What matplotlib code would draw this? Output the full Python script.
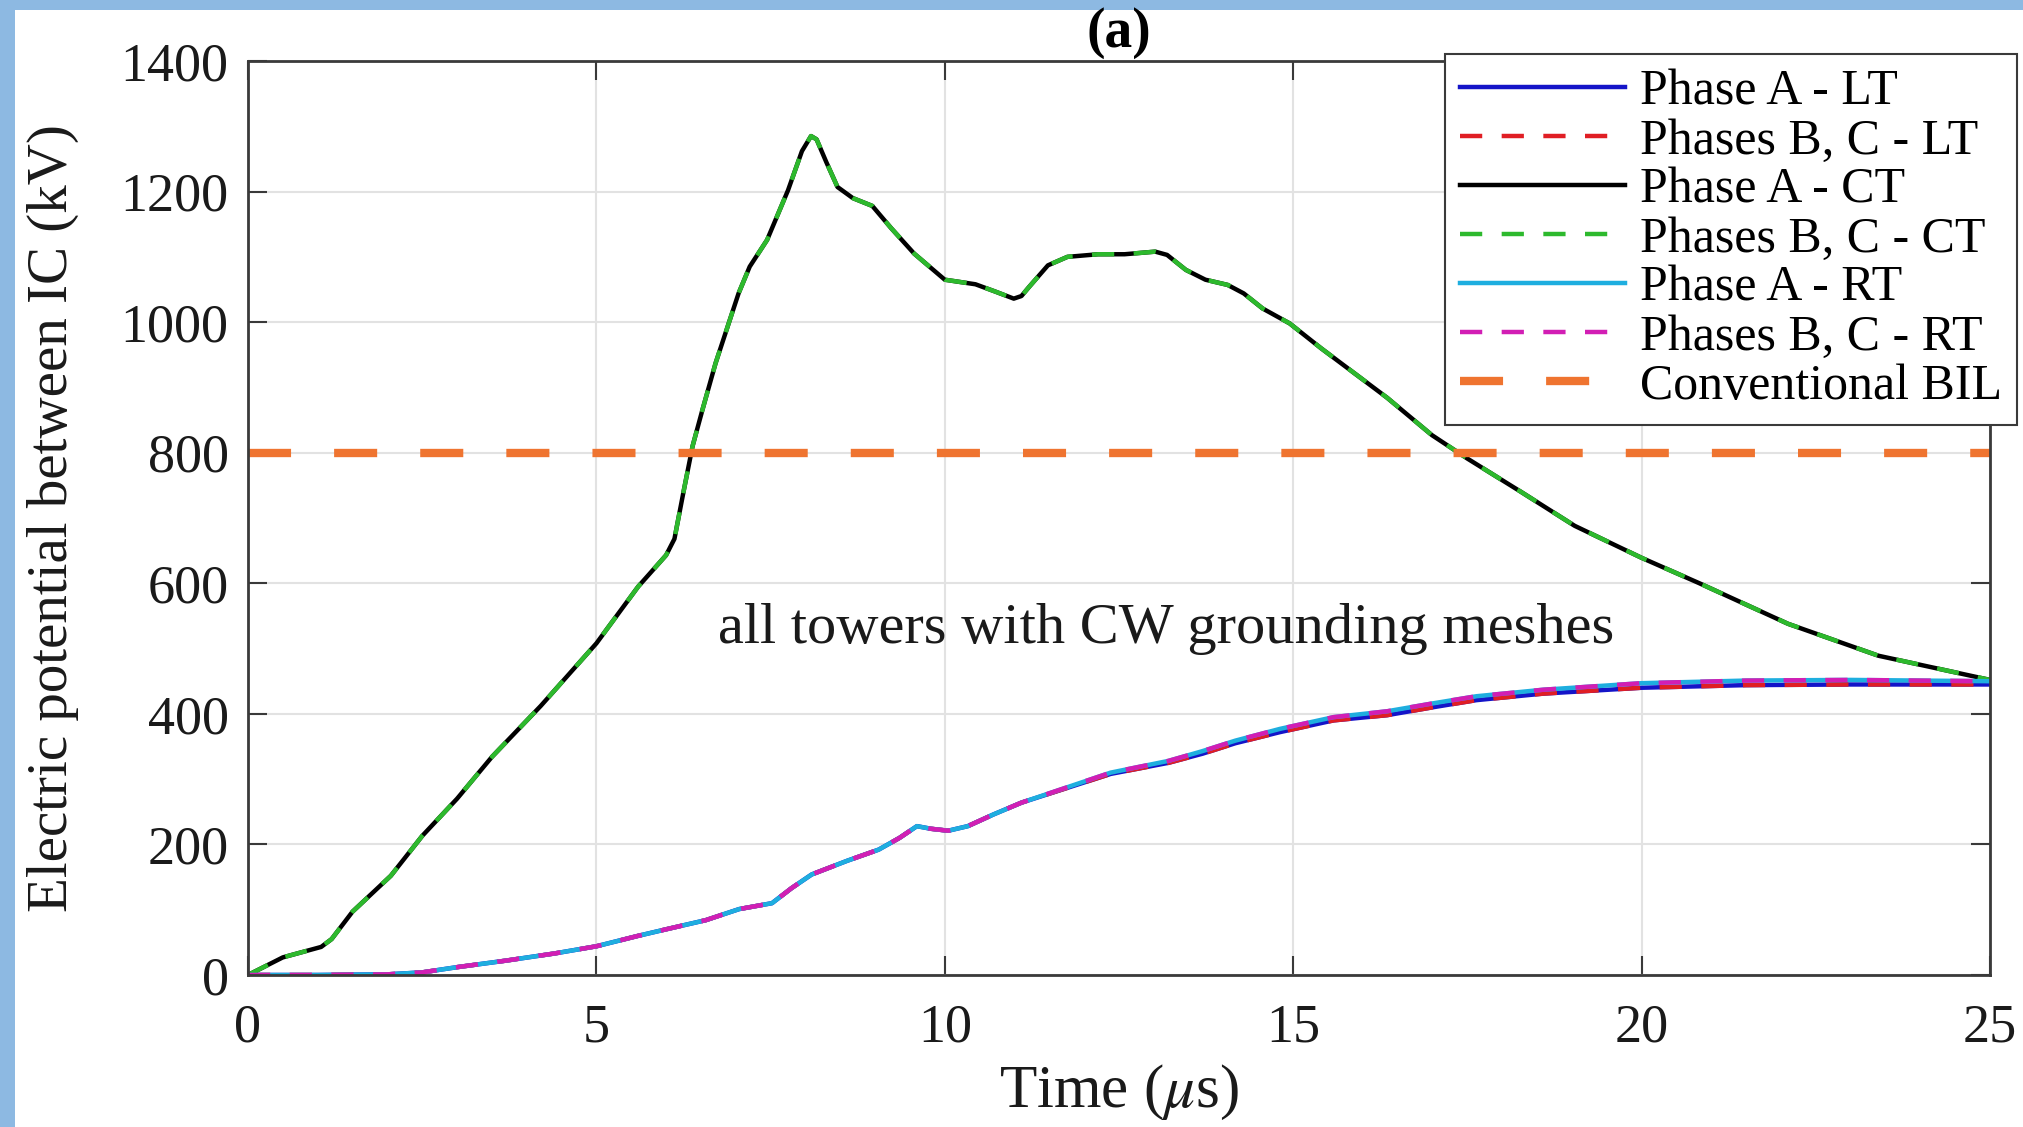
import matplotlib
matplotlib.use('Agg')
import matplotlib.pyplot as plt
from matplotlib.patches import Rectangle

plt.rcParams['font.family'] = ['Liberation Serif', 'DejaVu Serif']
plt.rcParams['mathtext.fontset'] = 'stix'
plt.rcParams['lines.scale_dashes'] = False

# ---------------- data ----------------
# Central tower (CT): phase A and phases B, C coincide
t_ct = [0, 0.5, 1.05, 1.2, 1.5, 2.05, 2.5, 3.0, 3.5, 4.2, 5.0, 5.6, 6.0, 6.12,
        6.25, 6.38, 6.52, 6.71, 7.04, 7.2, 7.45, 7.75, 7.95, 8.08, 8.16, 8.3,
        8.46, 8.68, 8.96, 9.23, 9.56, 10.0, 10.44, 10.72, 10.99, 11.1, 11.21,
        11.48, 11.76, 12.2, 12.58, 13.02, 13.19, 13.46, 13.74, 14.06, 14.29,
        14.56, 14.95, 15.4, 15.7, 16.35, 16.99, 17.5, 18.27, 19.04, 20.0,
        20.83, 22.1, 23.4, 25.0]
v_ct_a = [0, 27, 43, 55, 97, 152, 213, 270, 334, 412, 508, 595, 643, 668,
          740, 810, 865, 937, 1044, 1085, 1126, 1202, 1262, 1285, 1280, 1245,
          1207, 1190, 1178, 1144, 1105, 1065, 1058, 1047, 1036, 1040, 1054,
          1087, 1100, 1104, 1104, 1108, 1103, 1080, 1065, 1057, 1044,
          1021, 998, 960, 936, 884, 827, 791, 740, 688, 639,
          600, 538, 489, 452]
v_ct_bc = v_ct_a

# Left (LT) and right (RT) towers
t_side = [0, 1.0, 2.0, 2.5, 3.0, 3.7, 4.4, 5.0, 5.6, 6.0, 6.57, 7.05, 7.52,
          7.8, 8.09, 8.6, 9.05, 9.35, 9.6, 9.8, 10.05, 10.33, 10.7, 11.1,
          11.74, 12.38, 13.21, 13.7, 14.17, 14.81, 15.58, 16.35, 17.0, 17.63,
          18.59, 20.0, 21.5, 23.0, 25.0]
v_rt_a = [0, 0, 1, 4, 12, 22, 33, 44, 60, 70, 84, 101, 110,
          133, 154, 175, 192, 210, 228, 224, 221, 228, 246, 264,
          287, 310, 328, 343, 359, 377, 395, 404, 416, 427,
          437, 447, 451, 452, 450]
v_rt_bc = v_rt_a
v_lt_a = [0, 0, 1, 4, 12, 22, 33, 44, 60, 70, 84, 101, 110,
          133, 154, 175, 192, 210, 228, 224, 221, 228, 246, 264,
          286, 308, 325, 339, 355, 372, 390, 398, 410, 421,
          431, 440, 444, 445, 445]
v_lt_bc = v_lt_a

bil_level = 800
x_ticks = [0, 5, 10, 15, 20, 25]
y_ticks = [0, 200, 400, 600, 800, 1000, 1200, 1400]

labels = ['Phase A - LT', 'Phases B, C - LT', 'Phase A - CT',
          'Phases B, C - CT', 'Phase A - RT', 'Phases B, C - RT',
          'Conventional BIL']

# ---------------- figure ----------------
W, H = 2023, 1127
fig = plt.figure(figsize=(W / 100, H / 100), dpi=100)
fig.patch.set_facecolor('white')
border = '#8DB9E2'
fig.patches.append(Rectangle((0, 0), 15 / W, 1, transform=fig.transFigure,
                             facecolor=border, edgecolor='none', zorder=-10))
fig.patches.append(Rectangle((0, 1 - 10 / H), 1, 10 / H, transform=fig.transFigure,
                             facecolor=border, edgecolor='none', zorder=-10))

ax = fig.add_axes([248 / W, 1 - 975 / H, (1990 - 248) / W, (975 - 61) / H])

lw = 3.2
dash = (16, 14)
ax.plot(t_side, v_lt_a, color='#1414C8', lw=lw, label=labels[0])
ax.plot(t_side, v_lt_bc, color='#E01E24', lw=lw, dashes=dash, label=labels[1])
ax.plot(t_ct, v_ct_a, color='black', lw=lw, label=labels[2])
ax.plot(t_ct, v_ct_bc, color='#2DB92D', lw=lw, dashes=dash, label=labels[3])
ax.plot(t_side, v_rt_a, color='#1EAEDF', lw=lw, label=labels[4])
ax.plot(t_side, v_rt_bc, color='#D21EB4', lw=lw, dashes=dash, label=labels[5])
ax.axhline(bil_level, color='#EF7430', lw=6, dashes=(31, 31), label=labels[6])

ax.set_xlim(0, 25)
ax.set_ylim(0, 1400)
ax.set_xticks(x_ticks)
ax.set_yticks(y_ticks)
ax.grid(True, color='#E2E2E2', linewidth=1.5)
ax.set_axisbelow(True)
for s in ax.spines.values():
    s.set_color('#3A3A3A')
    s.set_linewidth(2)
ax.tick_params(direction='in', length=14, width=1.5, top=True, right=True,
               labelsize=39, colors='#3A3A3A', labelcolor='#1A1A1A')
ax.tick_params(axis='x', pad=20)
ax.tick_params(axis='y', pad=14)

ax.set_xlabel(r'Time ($\mu$s)', fontsize=44, labelpad=7, color='#1A1A1A')
ax.set_ylabel('Electric potential between IC (kV)', fontsize=41, labelpad=30,
              color='#1A1A1A')
ax.set_title('(a)', fontsize=40, fontweight='bold', pad=10)

ax.text(13.18, 530, 'all towers with CW grounding meshes', ha='center',
        va='center', fontsize=42, color='#1A1A1A')

leg = ax.legend(loc='upper left', bbox_to_anchor=(1445 / W, 1 - 54 / H),
                bbox_transform=fig.transFigure, borderaxespad=0,
                fontsize=36, handlelength=3.3, handletextpad=0.3,
                labelspacing=0.05, borderpad=0.3, fancybox=False,
                framealpha=1, edgecolor='#3A3A3A')
leg.get_frame().set_linewidth(1.5)

fig.savefig('out.png', dpi=100)
